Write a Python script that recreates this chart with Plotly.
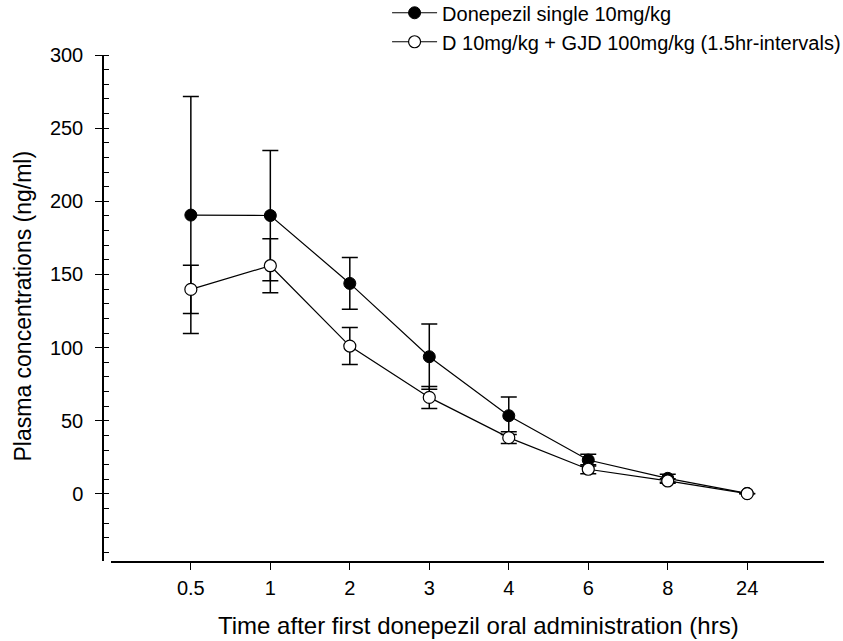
import plotly.graph_objects as go

times = ["0.5", "1", "2", "3", "4", "6", "8", "24"]
single_mean = [190.6, 190.3, 143.9, 93.8, 53.5, 23.2, 10.7, 0.4]
single_sd = [81.0, 44.5, 17.7, 22.3, 12.8, 4.0, 2.7, 0.0]
combo_mean = [139.8, 156.0, 101.1, 66.0, 38.5, 16.9, 8.9, 0.2]
combo_sd = [16.5, 18.5, 12.6, 7.5, 4.0, 3.0, 1.5, 0.0]

FONT = "Liberation Sans, Arial, sans-serif"

fig = go.Figure()
fig.add_trace(go.Scatter(
    x=times, y=single_mean, mode="lines+markers",
    name="Donepezil single 10mg/kg",
    line=dict(color="black", width=1.2),
    marker=dict(symbol="circle", size=12, color="black", line=dict(color="black", width=1)),
    error_y=dict(type="data", array=single_sd, visible=True, color="black", thickness=1.5, width=8),
))
fig.add_trace(go.Scatter(
    x=times, y=combo_mean, mode="lines+markers",
    name="D 10mg/kg + GJD 100mg/kg (1.5hr-intervals)",
    line=dict(color="black", width=1.2),
    marker=dict(symbol="circle", size=12, color="white", line=dict(color="black", width=1.2)),
    error_y=dict(type="data", array=combo_sd, visible=True, color="black", thickness=1.5, width=8),
))

fig.update_layout(
    width=843, height=641,
    margin=dict(l=103, r=19, t=55, b=80, autoexpand=False),
    paper_bgcolor="white", plot_bgcolor="white",
    font=dict(family=FONT, size=20, color="black"),
    showlegend=True,
    legend=dict(x=0.394, y=1.122, xanchor="left", yanchor="top",
                font=dict(size=20, family=FONT), bgcolor="rgba(0,0,0,0)",
                itemwidth=45, tracegroupgap=0),
    xaxis=dict(type="category", categoryorder="array", categoryarray=times,
               range=[-1.01, 7.966], domain=[0.0105, 1],
               showline=True, linecolor="black", linewidth=1.5,
               ticks="outside", ticklen=7, tickwidth=1.2, tickcolor="black",
               showgrid=False, zeroline=False, ticklabelstandoff=1,
               tickfont=dict(size=20, family=FONT)),
    yaxis=dict(range=[-45.8, 300], anchor="free", position=0,
               showline=True, linecolor="black", linewidth=1.5,
               tick0=0, dtick=50, ticks="outside", ticklen=7, tickwidth=1.2, tickcolor="black",
               minor=dict(dtick=10, ticks="inside", ticklen=5, tickwidth=1, tickcolor="black", showgrid=False),
               showgrid=False, zeroline=False, ticklabelstandoff=8,
               tickfont=dict(size=20, family=FONT)),
    annotations=[
        dict(text="Time after first donepezil oral administration (hrs)",
             xref="paper", yref="paper", x=(478 - 103) / 721, y=-(625 - 561) / 506,
             xanchor="center", yanchor="middle", showarrow=False,
             font=dict(size=24, family=FONT)),
        dict(text="Plasma concentrations (ng/ml)",
             xref="paper", yref="paper", x=(22 - 103) / 721, y=(561 - 306.5) / 506,
             xanchor="center", yanchor="middle", textangle=-90, showarrow=False,
             font=dict(size=23, family=FONT)),
    ],
)

fig.write_html("out.html")
